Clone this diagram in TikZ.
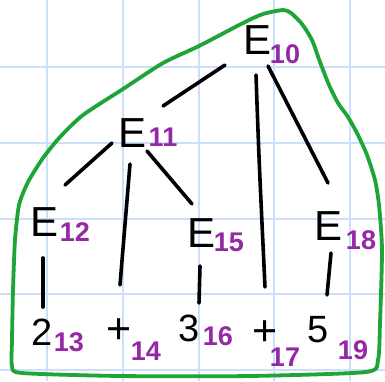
\documentclass[tikz,border=0pt]{standalone}
\usepackage{fontspec}
\setmainfont{Liberation Sans}
\definecolor{gridblue}{RGB}{203,222,252}
\definecolor{hullgreen}{RGB}{30,165,55}
\definecolor{numpurple}{RGB}{150,40,165}
\begin{document}
\begin{tikzpicture}[x=1pt,y=-1pt,
  sym/.style={inner sep=0pt,font=\fontsize{42}{42}\selectfont},
  leaf/.style={inner sep=0pt,font=\fontsize{38}{38}\selectfont},
  plus/.style={inner sep=0pt,font=\fontsize{43}{43}\selectfont},
  num/.style={inner sep=0pt,text=numpurple,font=\bfseries\fontsize{27}{27}\selectfont},
  edge/.style={line width=3.6pt,line cap=round,black},
  gridline/.style={line width=1.8pt,gridblue},
  hull/.style={line width=3.8pt,hullgreen,line cap=round,line join=round}]
\useasboundingbox (0,0) rectangle (385,381);
\fill[white] (0,0) rectangle (385,381);
% grid
\foreach \g in {47,123,199,274,350}{
  \draw[gridline] (\g,0) -- (\g,381);
  \draw[gridline] (0,\g+20) -- (385,\g+20);
}
% hull
\draw[hull] plot[smooth cycle,tension=0.4] coordinates {
 (283,10) (263,14) (243,23) (199,46) (163,63) (123,89) (83,115) (60,137)
 (43,158) (28,182) (19,205) (15,240) (13,290) (12,340) (12,366) (22,373)
 (120,376) (250,376) (366,372) (378,360) (380,323) (382,250) (379,205)
 (375,180) (367,155) (358,135) (348,117) (338,103) (329,85) (320,62)
 (312,40) (302,24) (291,13)};
% nodes
\node[sym] (e10) at (258,40) {E};
\node[num] (s10) at (285,54) {10};
\node[sym] (e11) at (133,133) {E};
\node[num] (s11) at (163,137) {11};
\node[sym] (e12) at (45,222) {E};
\node[num] (s12) at (75,232) {12};
\node[sym] (e15) at (202,233) {E};
\node[num] (s15) at (229,242) {15};
\node[sym] (e18) at (329,226) {E};
\node[num] (s18) at (361,240) {18};
\node[leaf] (n2) at (42,332) {2};
\node[num] (s13) at (69,342) {13};
\node[plus] (p14) at (119,331) {+};
\node[num] (s14) at (146,351) {14};
\node[leaf] (n3) at (189,328) {3};
\node[num] (s16) at (218,336) {16};
\node[plus] (p17) at (265,333) {+};
\node[num] (s17) at (285,357) {17};
\node[leaf] (n5) at (318,330) {5};
\node[num] (s19) at (353,350) {19};
% edges
\draw[edge] ([shift={(-33,25)}]e10.center) -- ([shift={(30,-27)}]e11.center);
\draw[edge] ([shift={(-2,35)}]e10.center) .. controls ([shift={(1,120)}]e10.center) .. ([shift={(0,-46)}]p17.center);
\draw[edge] ([shift={(10,26)}]e10.center) -- ([shift={(-1,-43)}]e18.center);
\draw[edge] ([shift={(-21,10)}]e11.center) -- ([shift={(20,-37)}]e12.center);
\draw[edge] ([shift={(-3,31)}]e11.center) -- ([shift={(1,-46)}]p14.center);
\draw[edge] ([shift={(14,18)}]e11.center) -- ([shift={(-10,-29)}]e15.center);
\draw[edge] ([shift={(-2,36)}]e12.center) -- ([shift={(1,-25)}]n2.center);
\draw[edge] ([shift={(-2,33)}]e15.center) -- ([shift={(10,-25)}]n3.center);
\draw[edge] ([shift={(2,27)}]e18.center) -- ([shift={(9,-35)}]n5.center);
\end{tikzpicture}
\end{document}
